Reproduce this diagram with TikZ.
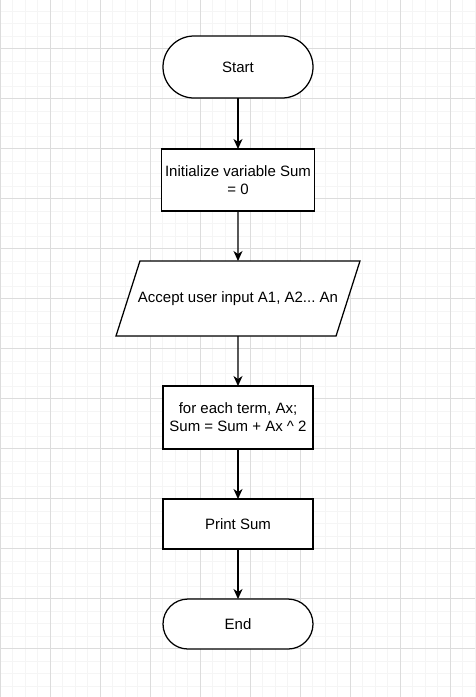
\documentclass[tikz,border=0pt]{standalone}
\usepackage{fontspec}
\setmainfont{Liberation Sans}
\frenchspacing
\definecolor{mygridmajor}{RGB}{220, 220, 220}
\definecolor{mygridminor}{RGB}{245, 245, 245}
\usetikzlibrary{arrows.meta, positioning, shapes.geometric}

\begin{document}
\begin{tikzpicture}[x = 1pt, y = 1pt,
	box/.style = {draw, line width = 1.25pt, outer sep = 0pt, fill = white, minimum width = 150pt, align = center, font = \fontsize{15}{18}\selectfont},
	term/.style = {box, rounded corners = 25pt},
	io/.style = {box, trapezium, trapezium left angle = 72.3, trapezium right angle = 107.7, minimum width = 0pt, inner xsep = -2pt, text height = 11pt, text depth = 3pt, inner ysep = 30.5pt},
	flow/.style = {line width = 1.25pt, -{Stealth[length = 10pt, width = 9pt, inset = 3pt]}},
	gridminor/.style = {mygridminor, line width = 1pt},
	gridmajor/.style = {mygridmajor, line width = 1pt}]
	\fill[white] (0, 0) rectangle (475, -697);
	\useasboundingbox (0, 0) rectangle (475, -697);

	% background grid
	\foreach \i in {0, ..., 38} \draw[gridminor] (\i*12.5, 0) -- (\i*12.5, -697);
	\foreach \i in {1, ..., 56} \draw[gridminor] (0, -\i*12.5 + 1.5) -- (475, -\i*12.5 + 1.5);
	\foreach \i in {0, ..., 9} \draw[gridmajor] (\i*50, 0) -- (\i*50, -697);
	\foreach \i in {1, ..., 14} \draw[gridmajor] (0, -\i*50 + 1.5) -- (475, -\i*50 + 1.5);

	\node[term, minimum height = 62pt, rounded corners = 31pt] (1) at (238, -67) {Start};
	\node[box, minimum height = 62pt, below = 51pt of 1] (2) {Initialize variable Sum\\= 0};
	\node[io, below = 50pt of 2] (3) {Accept user input A1, A2... An};
	\node[box, minimum height = 63pt, below = 50pt of 3] (4) {for each term, Ax;\\Sum = Sum + Ax \^{} 2};
	\node[box, minimum height = 50pt, below = 50pt of 4] (5) {Print Sum};
	\node[term, minimum height = 50pt, below = 50pt of 5] (6) {End};

	\draw[flow] (1) -- (2);
	\draw[flow] (2) -- (3);
	\draw[flow] (3) -- (4);
	\draw[flow] (4) -- (5);
	\draw[flow] (5) -- (6);
\end{tikzpicture}
\end{document}
